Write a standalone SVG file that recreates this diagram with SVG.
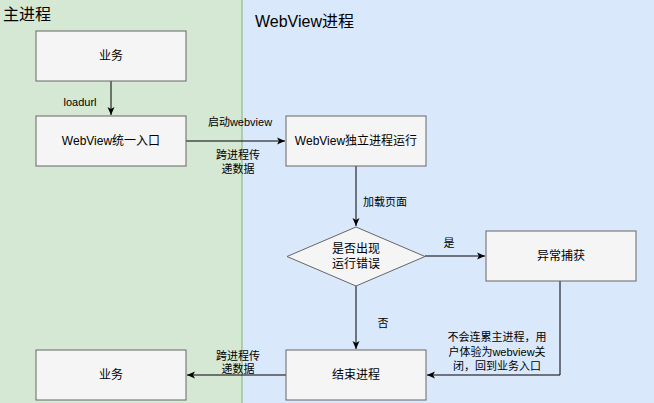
<svg xmlns="http://www.w3.org/2000/svg" width="654" height="403" viewBox="0 0 654 403">
<defs>
<marker id="ah" markerWidth="10" markerHeight="10" refX="9" refY="5" orient="auto" markerUnits="userSpaceOnUse">
<path d="M1,1.5 L9,5 L1,8.5 L3,5 Z" fill="#000"/>
</marker>
</defs>
<style>
text{font-family:"Liberation Sans","Noto Sans CJK SC",sans-serif;fill:#000}
.box{fill:#f5f5f5;stroke:#666;stroke-width:1}
.lbl{font-size:12px;text-anchor:middle;dominant-baseline:central}
.el{font-size:11px;text-anchor:middle;dominant-baseline:central}
.edge{fill:none;stroke:#000;stroke-width:1;marker-end:url(#ah)}
.title{font-size:16px}
</style>
<g id="lanes">
<rect x="0" y="0" width="242" height="403" fill="#d5e8d4"/>
<rect x="242" y="0" width="412" height="403" fill="#dae8fc"/>
<line x1="242" y1="0" x2="242" y2="403" stroke="#82b366" stroke-width="1"/>
<text class="title" x="3" y="20">主进程</text>
<text class="title" x="255" y="27">WebView进程</text>
</g>
<g id="edges">
<path class="edge" d="M111,81 L111,115"/>
<text class="el" x="80" y="102">loadurl</text>
<path class="edge" d="M186,141 L285,141"/>
<text class="el" x="240" y="122">启动webview</text>
<text class="el" x="238" y="155">跨进程传</text>
<text class="el" x="238" y="169">递数据</text>
<path class="edge" d="M356,166 L356,226"/>
<text class="el" x="385" y="202">加载页面</text>
<path class="edge" d="M425,256 L485,256"/>
<text class="el" x="449" y="243">是</text>
<path class="edge" d="M356,286 L356,349"/>
<text class="el" x="383" y="323">否</text>
<path class="edge" d="M560,281 L560,375 L427,375"/>
<text class="el" x="497" y="337">不会连累主进程，用</text>
<text class="el" x="497" y="352">户体验为webview关</text>
<text class="el" x="497" y="366">闭，回到业务入口</text>
<path class="edge" d="M286,375 L187,375"/>
<text class="el" x="238" y="356">跨进程传</text>
<text class="el" x="238" y="369">递数据</text>
</g>
<g id="n1"><rect class="box" x="36" y="31" width="150" height="50"/><text class="lbl" x="111" y="56">业务</text></g>
<g id="n2"><rect class="box" x="36" y="116" width="150" height="50"/><text class="lbl" x="111" y="141">WebView统一入口</text></g>
<g id="n3"><rect class="box" x="286" y="116" width="140" height="50"/><text class="lbl" x="356" y="141">WebView独立进程运行</text></g>
<g id="n4"><path class="box" d="M356,227 L425,256.5 L356,286 L287,256.5 Z"/><text class="lbl" x="356" y="249">是否出现</text><text class="lbl" x="356" y="264">运行错误</text></g>
<g id="n5"><rect class="box" x="486" y="231" width="150" height="50"/><text class="lbl" x="561" y="256">异常捕获</text></g>
<g id="n6"><rect class="box" x="286" y="350" width="140" height="50"/><text class="lbl" x="356" y="375">结束进程</text></g>
<g id="n7"><rect class="box" x="36" y="350" width="150" height="50"/><text class="lbl" x="111" y="375">业务</text></g>
</svg>
